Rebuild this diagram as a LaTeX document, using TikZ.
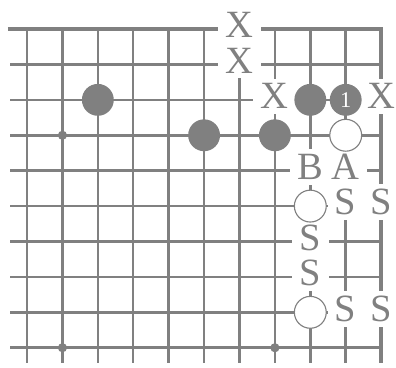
\documentclass[tikz,border=0pt]{standalone}
\usepackage{fontspec}
\setmainfont{Liberation Serif}
\definecolor{ink}{RGB}{128,128,128}

\begin{document}
\begin{tikzpicture}[y=-1cm,
  blackstone/.style={circle,fill=ink,minimum size=0.9cm,inner sep=0pt},
  whitestone/.style={circle,draw=ink,fill=white,line width=0.9pt,minimum size=0.9cm,inner sep=0pt},
  hoshi/.style={circle,fill=ink,minimum size=0.26cm,inner sep=0pt},
  pointmark/.style={fill=white,text=ink,inner xsep=6pt,inner ysep=4pt,yshift=3pt,font=\fontsize{31}{31}\selectfont}]

  \useasboundingbox (0.237,0.18) rectangle (11.42,10.55);

  % grid
  \foreach \r in {2,...,10}
    \draw[ink,line width=2pt] (0.52,\r) -- (11,\r);
  \foreach \c in {1,...,10}
    \draw[ink,line width=2pt] (\c,1) -- (\c,10.43);
  % edges of the board
  \draw[ink,line width=3.2pt] (0.46,1) -- (11,1) -- (11,10.43);

  % star points
  \node[hoshi] (h1) at (2,4) {};
  \node[hoshi] (h2) at (2,10) {};
  \node[hoshi] (h3) at (8,10) {};

  % marks
  \node[pointmark] (x1) at (7,1) {X};
  \node[pointmark] (x2) at (7,2) {X};
  \node[pointmark] (x3) at (8,3) {X};
  \node[pointmark] (x4) at (11,3) {X};
  \node[pointmark] (pb) at (9,5) {B};
  \node[pointmark] (pa) at (10,5) {A};
  \node[pointmark] (s1) at (10,6) {S};
  \node[pointmark] (s2) at (11,6) {S};
  \node[pointmark] (s3) at (9,7) {S};
  \node[pointmark] (s4) at (9,8) {S};
  \node[pointmark] (s5) at (10,9) {S};
  \node[pointmark] (s6) at (11,9) {S};

  % black
  \node[blackstone] (b1) at (3,3) {};
  \node[blackstone] (b2) at (6,4) {};
  \node[blackstone] (b3) at (8,4) {};
  \node[blackstone] (b4) at (9,3) {};
  \node[blackstone,text=white,font=\fontsize{18}{18}\selectfont] (m1) at (10,3) {1};

  % white
  \node[whitestone] (w1) at (10,4) {};
  \node[whitestone] (w2) at (9,6) {};
  \node[whitestone] (w3) at (9,9) {};

\end{tikzpicture}
\end{document}
